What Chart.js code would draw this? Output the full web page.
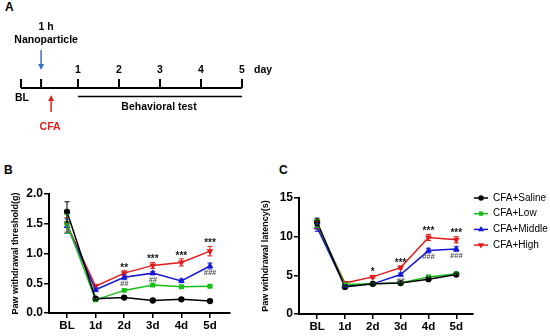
<!DOCTYPE html>
<html>
<head>
<meta charset="utf-8">
<script src="https://cdn.jsdelivr.net/npm/chart.js@4.4.1/dist/chart.umd.min.js"></script>
<style>
  body { margin: 0; width: 550px; height: 336px; background: #fff; position: relative; overflow: hidden;
         font-family: "Liberation Sans", Arial, sans-serif; }
  canvas { position: absolute; }
  .panel { position: absolute; font-weight: bold; font-size: 12px; color: #000; }
</style>
</head>
<body>
<div class="panel" style="left:5px;top:0px">A</div>
<div class="panel" style="left:4px;top:163px">B</div>
<div class="panel" style="left:279px;top:163px">C</div>
<canvas id="chartA" width="280" height="140" style="left:0;top:0"></canvas>
<canvas id="chartB" width="240" height="156" style="left:0;top:180px"></canvas>
<canvas id="chartC" width="300" height="156" style="left:250px;top:180px"></canvas>
<script>
// --- data ---
const days = ['BL', '1d', '2d', '3d', '4d', '5d'];
const groups = ['CFA+Saline', 'CFA+Low', 'CFA+Middle', 'CFA+High'];
const colors = ['#000000', '#17c017', '#1818d8', '#e31b1b'];

// B: paw withdrawal threshold (g)
const thrSaline = [1.70, 0.24, 0.26, 0.21, 0.23, 0.20];
const thrLow    = [1.50, 0.22, 0.38, 0.47, 0.44, 0.45];
const thrMiddle = [1.46, 0.39, 0.60, 0.67, 0.54, 0.79];
const thrHigh   = [1.48, 0.45, 0.67, 0.80, 0.85, 1.04];
const thrErrSaline = [0.17, 0.02, 0.02, 0.02, 0.02, 0.02];
const thrErrLow    = [0.16, 0.02, 0.02, 0.02, 0.02, 0.02];
const thrErrMiddle = [0.12, 0.03, 0.04, 0.03, 0.03, 0.05];
const thrErrHigh   = [0.12, 0.03, 0.04, 0.05, 0.06, 0.08];
const thrStars = ['', '', '**', '***', '***', '***'];
const thrHash  = ['', '', '##', '##', '', '###'];

// C: paw withdrawal latency (s)
const latSaline = [11.9, 3.5, 3.9, 4.0, 4.5, 5.1];
const latLow    = [11.7, 3.8, 3.9, 4.0, 4.8, 5.2];
const latMiddle = [11.2, 3.6, 3.9, 5.1, 8.2, 8.4];
const latHigh   = [11.5, 4.0, 4.8, 6.0, 9.9, 9.6];
const latErrSaline = [0.5, 0.2, 0.1, 0.1, 0.1, 0.1];
const latErrLow    = [0.5, 0.2, 0.1, 0.1, 0.2, 0.1];
const latErrMiddle = [0.5, 0.2, 0.1, 0.2, 0.3, 0.3];
const latErrHigh   = [0.5, 0.2, 0.2, 0.2, 0.4, 0.4];
const latStars = ['', '', '*', '***', '***', '***'];
const latHash  = ['', '', '', '##', '###', '###'];

// A: timeline
const timelineDays   = [-0.39, 0.1, 1, 2, 3, 4, 5];
const timelineLabels = ['', '', '1', '2', '3', '4', '5'];

const FONT = '"Liberation Sans", Arial, sans-serif';
const shapes = ['circle', 'rect', 'triangle', 'triangle'];

// error bars + significance marks
const errorBars = {
  id: 'errorBars',
  afterDatasetsDraw(chart, args, opts) {
    const ctx = chart.ctx, x = chart.scales.x, y = chart.scales.y;
    ctx.save();
    ctx.lineWidth = 1;
    for (let d = opts.errs.length - 1; d >= 0; d--) {
      const vals = chart.data.datasets[d].data;
      ctx.strokeStyle = colors[d];
      opts.errs[d].forEach((e, i) => {
        const px = x.getPixelForValue(i);
        const top = y.getPixelForValue(vals[i].y + e), bot = y.getPixelForValue(vals[i].y - e);
        ctx.beginPath();
        ctx.moveTo(px, top); ctx.lineTo(px, bot);
        ctx.moveTo(px - 2.5, top); ctx.lineTo(px + 2.5, top);
        ctx.moveTo(px - 2.5, bot); ctx.lineTo(px + 2.5, bot);
        ctx.stroke();
      });
    }
    // stars above High, hashes below Middle
    ctx.textAlign = 'center';
    ctx.textBaseline = 'middle';
    const high = chart.data.datasets[3].data, mid = chart.data.datasets[2].data;
    opts.stars.forEach((s, i) => {
      if (!s) return;
      ctx.fillStyle = '#1a1a1a';
      ctx.font = 'bold 10px ' + FONT;
      ctx.fillText(s, x.getPixelForValue(i), y.getPixelForValue(high[i].y + opts.errs[3][i]) - 3);
    });
    opts.hash.forEach((s, i) => {
      if (!s) return;
      ctx.fillStyle = '#505050';
      ctx.font = 'italic bold 7.5px ' + FONT;
      ctx.fillText(s, x.getPixelForValue(i), y.getPixelForValue(mid[i].y) + 6.5);
    });
    ctx.restore();
  }
};

const legendPlugin = {
  id: 'sideLegend',
  afterDraw(chart, args, opts) {
    if (!opts.show) return;
    const ctx = chart.ctx;
    ctx.save();
    groups.forEach((g, i) => {
      const yy = 18 + i * 15.7;
      ctx.strokeStyle = colors[i];
      ctx.fillStyle = colors[i];
      ctx.lineWidth = 1.5;
      ctx.beginPath(); ctx.moveTo(224, yy); ctx.lineTo(238, yy); ctx.stroke();
      Chart.helpers.drawPoint(ctx, { pointStyle: shapes[i], radius: 2, rotation: i === 3 ? 180 : 0, borderWidth: 1 }, 231, yy);
      ctx.fillStyle = '#000';
      ctx.font = '10px ' + FONT;
      ctx.textBaseline = 'middle';
      ctx.fillText(g, 243, yy);
    });
    ctx.restore();
  }
};

function makeChart(id, series, errs, stars, hash, yMax, yStep, yDecimals, yTitle, pad, xMin, xMax, showLegend, xH) {
  return new Chart(document.getElementById(id), {
    type: 'line',
    data: {
      datasets: series.map((s, d) => ({
        label: groups[d],
        data: s.map((v, i) => ({ x: i, y: v })),
        borderColor: colors[d],
        backgroundColor: colors[d],
        borderWidth: 1.5,
        pointStyle: shapes[d],
        pointRotation: d === 3 ? 180 : 0,
        pointRadius: 2.4,
        tension: 0
      }))
    },
    options: {
      responsive: false,
      animation: false,
      layout: { padding: pad },
      plugins: {
        legend: { display: false },
        tooltip: { enabled: false },
        errorBars: { errs: errs, stars: stars, hash: hash },
        sideLegend: { show: showLegend }
      },
      scales: {
        x: {
          type: 'linear', min: xMin, max: xMax,
          afterBuildTicks: s => { s.ticks = days.map((d, i) => ({ value: i })); },
          afterFit: s => { s.height = xH; },
          ticks: { callback: v => days[v], color: '#000', font: { family: FONT, size: 11.5, weight: 'bold' }, padding: 1, maxRotation: 0 },
          grid: { drawOnChartArea: false, color: '#000', tickLength: 5, lineWidth: 1.5 },
          border: { color: '#000', width: 2 }
        },
        y: {
          min: 0, max: yMax,
          afterBuildTicks: s => { const t = []; for (let v = 0; v <= yMax + 1e-9; v += yStep) t.push({ value: v }); s.ticks = t; },
          afterFit: s => { s.width = 49; },
          ticks: { callback: v => v.toFixed(yDecimals), color: '#000', font: { family: FONT, size: 12, weight: 'bold' }, padding: 1 },
          grid: { drawOnChartArea: false, color: '#000', tickLength: 5, lineWidth: 1.5 },
          border: { color: '#000', width: 2 },
          title: { display: true, text: yTitle, color: '#000', font: { family: FONT, size: 9, weight: 'bold' }, padding: { top: 10, bottom: 0 } }
        }
      }
    },
    plugins: [errorBars, legendPlugin]
  });
}

makeChart('chartB', [thrSaline, thrLow, thrMiddle, thrHigh],
  [thrErrSaline, thrErrLow, thrErrMiddle, thrErrHigh], thrStars, thrHash,
  2.0, 0.5, 1, 'Paw withdrawal threshold(g)', { top: 14, right: 10, left: 0, bottom: 0 }, -0.63, 5.7, false, 23);

makeChart('chartC', [latSaline, latLow, latMiddle, latHigh],
  [latErrSaline, latErrLow, latErrMiddle, latErrHigh], latStars, latHash,
  15, 5, 0, 'Paw withdrawal latency(s)', { top: 18, right: 77, left: 0, bottom: 0 }, -0.65, 5.6, true, 22);

// --- panel A timeline ---
const timeline = {
  id: 'timeline',
  afterDraw(chart) {
    const ctx = chart.ctx, x = chart.scales.x;
    const px = v => x.getPixelForValue(v);
    ctx.save();
    ctx.strokeStyle = '#000';
    ctx.fillStyle = '#000';
    ctx.lineWidth = 2;
    ctx.beginPath();
    ctx.moveTo(px(timelineDays[0]), 88); ctx.lineTo(px(5), 88);
    timelineDays.forEach(d => { ctx.moveTo(px(d), 88); ctx.lineTo(px(d), 79); });
    ctx.stroke();
    ctx.lineWidth = 1.5;
    ctx.beginPath(); ctx.moveTo(px(1), 96.5); ctx.lineTo(px(5), 96.5); ctx.stroke();

    ctx.textAlign = 'center';
    ctx.textBaseline = 'middle';
    ctx.font = 'bold 10.5px ' + FONT;
    timelineDays.forEach((d, i) => { if (timelineLabels[i]) ctx.fillText(timelineLabels[i], px(d), 70); });
    ctx.textAlign = 'left';
    ctx.fillText('day', px(5) + 12, 70);
    ctx.textAlign = 'center';
    ctx.fillText('BL', px(timelineDays[0]) + 1, 98.5);
    ctx.fillText('Behavioral test', px(3) - 1, 107);
    ctx.fillText('1 h', px(timelineDays[1]) + 5, 27);
    ctx.fillText('Nanoparticle', px(timelineDays[1]) + 5, 40);

    // arrows
    const arrow = (xx, y0, y1, col) => {
      ctx.strokeStyle = col; ctx.fillStyle = col; ctx.lineWidth = 1.5;
      const dir = Math.sign(y1 - y0);
      ctx.beginPath(); ctx.moveTo(xx, y0); ctx.lineTo(xx, y1 - dir * 5); ctx.stroke();
      ctx.beginPath(); ctx.moveTo(xx, y1); ctx.lineTo(xx - 3, y1 - dir * 6); ctx.lineTo(xx + 3, y1 - dir * 6); ctx.closePath(); ctx.fill();
    };
    arrow(px(timelineDays[1]), 50, 70, '#3b6fc0');
    const cfaX = px(timelineDays[1]) + 10;
    arrow(cfaX, 112, 95, '#e3201b');
    ctx.fillStyle = '#e3201b';
    ctx.fillText('CFA', cfaX - 1, 127);
    ctx.restore();
  }
};

new Chart(document.getElementById('chartA'), {
  type: 'scatter',
  data: { datasets: [{ data: timelineDays.map(d => ({ x: d, y: 0 })), pointRadius: 0 }] },
  options: {
    responsive: false,
    animation: false,
    layout: { padding: 0 },
    plugins: { legend: { display: false }, tooltip: { enabled: false } },
    scales: {
      x: { display: false, min: 1 - 78 / 41, max: 1 - 78 / 41 + 280 / 41 },
      y: { display: false, min: 0, max: 1 }
    }
  },
  plugins: [timeline]
});
</script>
</body>
</html>
